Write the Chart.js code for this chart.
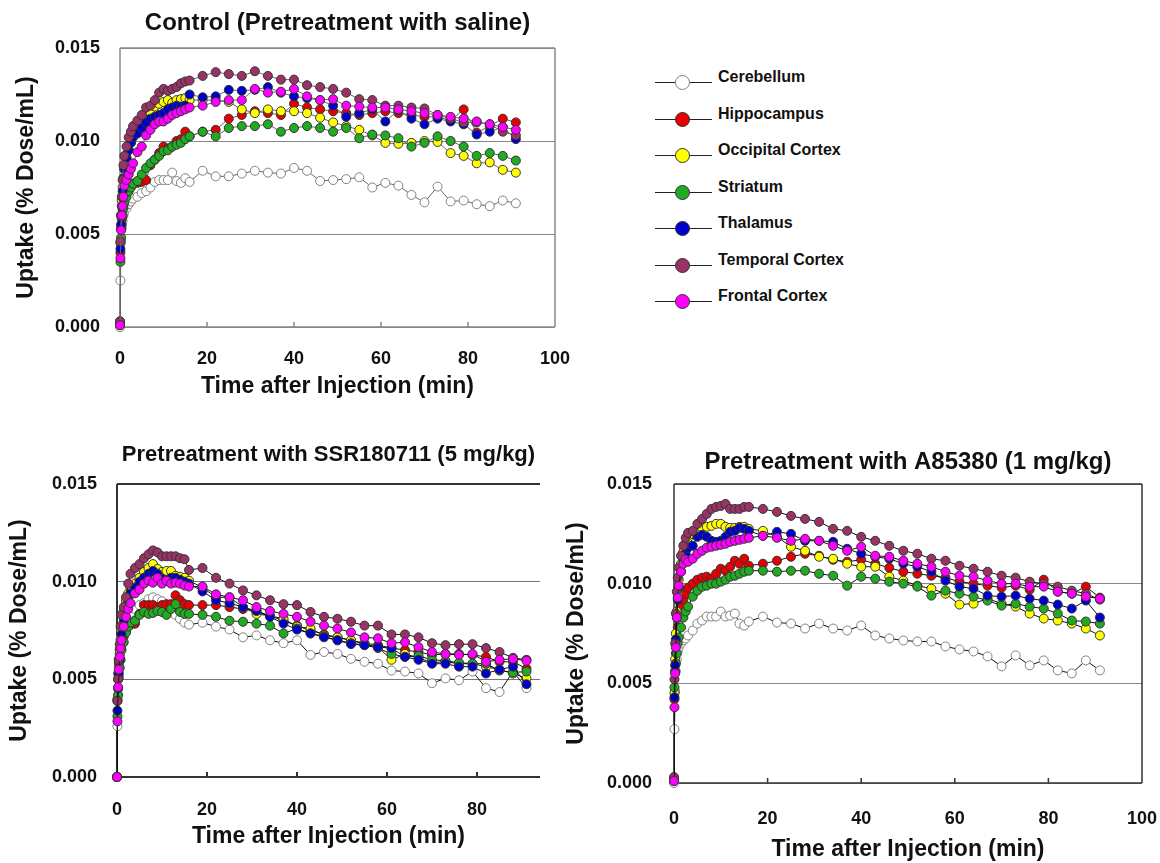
<!DOCTYPE html>
<html>
<head>
<meta charset="utf-8">
<title>Regional brain uptake</title>
<script src="https://cdn.jsdelivr.net/npm/chart.js@4.4.1/dist/chart.umd.min.js"></script>
<style>
  html { overflow: hidden; }
  body { margin: 0; background: #fff; width: 1160px; height: 863px; position: relative; overflow: hidden;
         font-family: "Liberation Sans", Arial, sans-serif; }
  canvas { position: absolute; }
  #legend { position: absolute; left: 655px; top: 82px; }
  #legend .item { position: absolute; left: 0; height: 0; width: 260px; }
  #legend .line { position: absolute; left: 0; top: 0; width: 57px; height: 1px; background: #222; }
  #legend .dot { position: absolute; left: 20px; top: -7px; width: 15px; height: 15px; border-radius: 50%;
                 border: 1px solid #333; box-sizing: border-box; }
  #legend .label { position: absolute; left: 63px; top: -15px; font-size: 16px; font-weight: bold;
                   line-height: 20px; color: #111; white-space: nowrap; }
</style>
</head>
<body>
<canvas id="control" width="585" height="400" style="left:0;top:0"></canvas>
<canvas id="ssr" width="560" height="440" style="left:0;top:420px"></canvas>
<canvas id="a85" width="616" height="443" style="left:560px;top:420px"></canvas>
<div id="legend"></div>

<script>
// sampling times (min) shared by all three experiments
var times = [0, 0.1, 0.25, 0.4, 0.6, 0.8, 1, 1.5, 2, 2.5, 3, 4, 5, 6, 7, 8, 9, 10, 11, 12, 13, 14, 15, 16,
  19, 22, 25, 28, 31, 34, 37, 40, 43, 46, 49, 52, 55, 58, 61, 64, 67, 70, 73, 76, 79, 82, 85, 88, 91];

var regions = ["Cerebellum", "Hippocampus", "Occipital Cortex", "Striatum", "Thalamus", "Temporal Cortex", "Frontal Cortex"];
var fills = ["#ffffff", "#e60000", "#ffff00", "#22aa22", "#0000cc", "#993366", "#ff00ff"];
var edges = ["#808080", "#333333", "#333333", "#333333", "#333333", "#333333", "#333333"];

var yTickLabels = ["0.000", "0.005", "0.010", "0.015"];
var xTickLabels = ["0", "20", "40", "60", "80", "100"];

// Control (pretreatment with saline), % dose/mL
var ctrlCerebellum = [0, 0.0025, 0.0046, 0.0053, 0.0057, 0.006, 0.0062, 0.0064, 0.0066, 0.00675, 0.0069,
  0.007, 0.0072, 0.0073, 0.0075, 0.0078, 0.0079, 0.0079, 0.0079, 0.0083, 0.00785, 0.00775, 0.008, 0.0078,
  0.0084, 0.0081, 0.0081, 0.00825, 0.0084, 0.0083, 0.00825, 0.00855, 0.0084, 0.00785, 0.0079, 0.00795, 0.00805,
  0.0075, 0.00775, 0.0076, 0.0071, 0.0067, 0.00755, 0.00675, 0.0068, 0.0066, 0.0065, 0.0068, 0.00665];
var ctrlHippocampus = [0.0003, 0.004, 0.0053, 0.0058, 0.0063, 0.0066, 0.0069, 0.0072, 0.0075, 0.0076, 0.0077,
  0.00775, 0.0078, 0.0079, 0.0087, 0.009, 0.00935, 0.0097, 0.0096, 0.0097, 0.01, 0.0101, 0.0105, 0.01025,
  0.0105, 0.0106, 0.0112, 0.0114, 0.0116, 0.0115, 0.0114, 0.012, 0.0118, 0.0117, 0.0116, 0.0115, 0.0114,
  0.0115, 0.0116, 0.0115, 0.0114, 0.0113, 0.0113, 0.0111, 0.0117, 0.01045, 0.0108, 0.0112, 0.011];
var ctrlOccipital = [0.0002, 0.0045, 0.006, 0.0068, 0.0075, 0.008, 0.0085, 0.009, 0.0095, 0.0099, 0.01025,
  0.0105, 0.0108, 0.01115, 0.0115, 0.01185, 0.012, 0.0121, 0.0122, 0.01205, 0.0122, 0.01225, 0.0123, 0.0122,
  0.0122, 0.0122, 0.0121, 0.0117, 0.0115, 0.0117, 0.0116, 0.0116, 0.0115, 0.01125, 0.011, 0.0108, 0.0106,
  0.0103, 0.0099, 0.00985, 0.0099, 0.01, 0.00995, 0.00935, 0.0092, 0.0088, 0.00885, 0.00845, 0.0083];
var ctrlStriatum = [0.0001, 0.0035, 0.0048, 0.0055, 0.006, 0.0064, 0.0067, 0.007, 0.0073, 0.0075, 0.0077,
  0.00785, 0.0082, 0.00855, 0.0088, 0.009, 0.0092, 0.00945, 0.0095, 0.0097, 0.0098, 0.0099, 0.0101, 0.01025,
  0.0105, 0.01025, 0.0107, 0.0108, 0.0108, 0.0109, 0.0105, 0.0107, 0.0108, 0.0107, 0.0105, 0.0107, 0.01015,
  0.01035, 0.0103, 0.01015, 0.0097, 0.0099, 0.01025, 0.01, 0.0097, 0.0092, 0.00935, 0.0092, 0.00895];
var ctrlThalamus = [0.0002, 0.0042, 0.0055, 0.0065, 0.0073, 0.008, 0.0085, 0.0091, 0.0095, 0.0099, 0.0102,
  0.0104, 0.0107, 0.011, 0.0112, 0.0113, 0.0114, 0.0115, 0.0117, 0.0118, 0.0119, 0.01185, 0.0119, 0.0125,
  0.01235, 0.0124, 0.01275, 0.0127, 0.01275, 0.0129, 0.0126, 0.0124, 0.0123, 0.0122, 0.0119, 0.0113, 0.0115,
  0.0117, 0.01105, 0.01165, 0.0112, 0.0109, 0.0112, 0.01105, 0.0109, 0.01035, 0.0105, 0.01075, 0.0101];
var ctrlTemporal = [0.0003, 0.0046, 0.006, 0.007, 0.0079, 0.0087, 0.0092, 0.0097, 0.0102, 0.0105, 0.0108,
  0.0111, 0.0114, 0.0118, 0.0119, 0.0122, 0.0126, 0.0128, 0.0127, 0.0128, 0.0129, 0.0131, 0.0132, 0.01325,
  0.0135, 0.0137, 0.0136, 0.0135, 0.01375, 0.0135, 0.0133, 0.0133, 0.013, 0.0129, 0.0128, 0.0126, 0.01225,
  0.0122, 0.0119, 0.0119, 0.0118, 0.01175, 0.0114, 0.0112, 0.011, 0.011, 0.0109, 0.0105, 0.0103];
var ctrlFrontal = [0.0001, 0.0037, 0.0052, 0.006, 0.0065, 0.007, 0.0076, 0.0079, 0.0082, 0.0085, 0.0088,
  0.0094, 0.0097, 0.0103, 0.0106, 0.0109, 0.01105, 0.01105, 0.0112, 0.0114, 0.0115, 0.0116, 0.0117, 0.0118,
  0.0119, 0.0121, 0.0122, 0.0122, 0.0128, 0.0126, 0.01265, 0.0128, 0.0124, 0.0122, 0.01225, 0.0119, 0.01185,
  0.0118, 0.0118, 0.0117, 0.0116, 0.0115, 0.0114, 0.0113, 0.0112, 0.01105, 0.0109, 0.01075, 0.0106];

// Pretreatment with SSR180711 (5 mg/kg)
var ssrCerebellum = [0, 0.0026, 0.0045, 0.0056, 0.0065, 0.0071, 0.0075, 0.0079, 0.0081, 0.0083, 0.0084,
  0.0086, 0.0088, 0.0089, 0.0091, 0.0092, 0.0091, 0.009, 0.0088, 0.0085, 0.0083, 0.0081, 0.0079, 0.0078,
  0.0079, 0.0077, 0.00755, 0.00715, 0.00725, 0.007, 0.00685, 0.007, 0.00625, 0.0064, 0.0063, 0.00605, 0.0059,
  0.0058, 0.00545, 0.0054, 0.0053, 0.0048, 0.00505, 0.00495, 0.0054, 0.00455, 0.00435, 0.0054, 0.00455];
var ssrHippocampus = [0, 0.0039, 0.005, 0.0058, 0.0063, 0.0066, 0.0069, 0.0072, 0.0075, 0.0077, 0.0078,
  0.00785, 0.00835, 0.0088, 0.0088, 0.0088, 0.0087, 0.0088, 0.00885, 0.00885, 0.0093, 0.00905, 0.00885, 0.0088,
  0.0088, 0.0088, 0.0087, 0.0086, 0.0085, 0.00825, 0.008, 0.00775, 0.0075, 0.0073, 0.00715, 0.007, 0.00685,
  0.00675, 0.0066, 0.0065, 0.0064, 0.00625, 0.0063, 0.0063, 0.00625, 0.00615, 0.0059, 0.0059, 0.00555];
var ssrOccipital = [0, 0.004, 0.0053, 0.006, 0.0065, 0.007, 0.0077, 0.0085, 0.009, 0.0094, 0.0097,
  0.0099, 0.0102, 0.0105, 0.0107, 0.0109, 0.01065, 0.0105, 0.01055, 0.01055, 0.0103, 0.01025, 0.0102, 0.01005,
  0.0097, 0.0092, 0.0092, 0.0087, 0.00835, 0.00825, 0.0081, 0.0077, 0.0076, 0.00725, 0.00715, 0.007, 0.0068,
  0.00665, 0.006, 0.0063, 0.0061, 0.00585, 0.0059, 0.0058, 0.0058, 0.00565, 0.0055, 0.0053, 0.00505];
var ssrStriatum = [0, 0.0031, 0.0042, 0.0051, 0.0056, 0.006, 0.0065, 0.0069, 0.0074, 0.0077, 0.0079,
  0.008, 0.0083, 0.00845, 0.00835, 0.0084, 0.0085, 0.00845, 0.0083, 0.0086, 0.00885, 0.00845, 0.00835, 0.00835,
  0.0083, 0.0082, 0.008, 0.00795, 0.00785, 0.00775, 0.00735, 0.0076, 0.00735, 0.0072, 0.007, 0.00685, 0.00675,
  0.0066, 0.0063, 0.00615, 0.0062, 0.006, 0.00595, 0.00585, 0.0058, 0.0058, 0.00545, 0.00535, 0.0054];
var ssrThalamus = [0, 0.0034, 0.00455, 0.0053, 0.006, 0.0066, 0.0073, 0.008, 0.0086, 0.009, 0.0094,
  0.0097, 0.01, 0.0102, 0.0104, 0.01055, 0.0104, 0.01015, 0.01005, 0.0102, 0.0102, 0.0101, 0.01, 0.0099,
  0.0095, 0.00905, 0.0089, 0.0087, 0.0085, 0.0082, 0.00785, 0.00755, 0.00735, 0.00715, 0.007, 0.0068, 0.00675,
  0.00665, 0.0066, 0.00615, 0.006, 0.0058, 0.0058, 0.00565, 0.00565, 0.0053, 0.0055, 0.00565, 0.00475];
var ssrTemporal = [0, 0.0039, 0.005, 0.006, 0.0068, 0.0077, 0.0083, 0.0087, 0.0092, 0.0099, 0.0104,
  0.0107, 0.0109, 0.0112, 0.0114, 0.0116, 0.0115, 0.0113, 0.0113, 0.0113, 0.0113, 0.0112, 0.01115, 0.0106,
  0.0107, 0.0102, 0.0099, 0.00955, 0.0093, 0.00905, 0.00885, 0.0088, 0.00845, 0.0082, 0.0081, 0.00795, 0.00775,
  0.00775, 0.0073, 0.0073, 0.00715, 0.00685, 0.00675, 0.0068, 0.0068, 0.0066, 0.0064, 0.0061, 0.006];
var ssrFrontal = [0, 0.00285, 0.0046, 0.0055, 0.00615, 0.0066, 0.007, 0.0077, 0.0082, 0.0086, 0.0089,
  0.0094, 0.0096, 0.0099, 0.01005, 0.00995, 0.0102, 0.0099, 0.01005, 0.0099, 0.00995, 0.0099, 0.0098, 0.00975,
  0.00975, 0.00935, 0.0092, 0.00905, 0.0087, 0.0085, 0.00835, 0.0082, 0.00795, 0.00775, 0.0076, 0.0074, 0.00715,
  0.0071, 0.00685, 0.0069, 0.00665, 0.0064, 0.0063, 0.00625, 0.0063, 0.0059, 0.006, 0.00605, 0.00595];

// Pretreatment with A85380 (1 mg/kg)
var aCerebellum = [0, 0.0027, 0.0046, 0.0056, 0.0062, 0.0066, 0.0068, 0.007, 0.00715, 0.00725, 0.0074,
  0.00765, 0.008, 0.00815, 0.00835, 0.00835, 0.00835, 0.0086, 0.00835, 0.0084, 0.0085, 0.008, 0.0079, 0.0081,
  0.00835, 0.00805, 0.008, 0.00775, 0.008, 0.00775, 0.00765, 0.0079, 0.0074, 0.00725, 0.00715, 0.0071, 0.0071,
  0.00685, 0.0067, 0.0066, 0.00635, 0.00585, 0.0064, 0.0059, 0.00615, 0.00565, 0.0055, 0.00615, 0.00565];
var aHippocampus = [0.0002, 0.0042, 0.0056, 0.0065, 0.0072, 0.0078, 0.0083, 0.0089, 0.0092, 0.0095, 0.0098,
  0.01, 0.0102, 0.0103, 0.01035, 0.01025, 0.0105, 0.01075, 0.01065, 0.01085, 0.01115, 0.011, 0.01125, 0.0109,
  0.011, 0.01115, 0.01135, 0.0115, 0.0114, 0.0112, 0.0111, 0.0112, 0.011, 0.0108, 0.0106, 0.0105, 0.0104,
  0.0103, 0.0101, 0.01, 0.0099, 0.0098, 0.0099, 0.0097, 0.0102, 0.0096, 0.0095, 0.00985, 0.0093];
var aOccipital = [0.0002, 0.0045, 0.0062, 0.0075, 0.0086, 0.0095, 0.0102, 0.011, 0.0116, 0.012, 0.0123,
  0.0125, 0.01275, 0.0128, 0.01285, 0.0129, 0.013, 0.013, 0.01285, 0.0128, 0.0128, 0.01285, 0.01285, 0.01275,
  0.01265, 0.01235, 0.01185, 0.01165, 0.01135, 0.01125, 0.011, 0.01085, 0.01085, 0.01035, 0.01015, 0.0099, 0.00975,
  0.0095, 0.00895, 0.009, 0.00925, 0.009, 0.00885, 0.0085, 0.00825, 0.00815, 0.008, 0.00775, 0.0074];
var aStriatum = [0.0001, 0.0048, 0.0056, 0.006, 0.0065, 0.007, 0.0073, 0.0078, 0.0083, 0.0086, 0.00885,
  0.00935, 0.00965, 0.00985, 0.0099, 0.01, 0.01, 0.0101, 0.0102, 0.01035, 0.0104, 0.0105, 0.0106, 0.01065,
  0.01065, 0.0106, 0.01065, 0.01065, 0.0105, 0.0104, 0.0099, 0.01035, 0.01025, 0.0101, 0.01, 0.00985, 0.0094,
  0.00965, 0.0095, 0.00935, 0.00915, 0.0089, 0.009, 0.00885, 0.00875, 0.0085, 0.00815, 0.0081, 0.008];
var aThalamus = [0.0002, 0.0043, 0.0059, 0.0072, 0.0083, 0.0092, 0.0098, 0.0106, 0.0111, 0.0115, 0.0118,
  0.0119, 0.01235, 0.01245, 0.01235, 0.01215, 0.0121, 0.01215, 0.01235, 0.0126, 0.01265, 0.0128, 0.01275, 0.01265,
  0.0124, 0.0126, 0.0125, 0.01215, 0.01215, 0.0121, 0.01175, 0.0115, 0.01135, 0.01125, 0.011, 0.01085, 0.0106,
  0.01015, 0.00985, 0.00975, 0.0094, 0.00935, 0.0094, 0.00925, 0.00915, 0.00895, 0.00875, 0.00915, 0.0083];
var aTemporal = [0.0003, 0.0052, 0.007, 0.0085, 0.0096, 0.0103, 0.0108, 0.0114, 0.0119, 0.0123, 0.01255,
  0.01265, 0.013, 0.01325, 0.0135, 0.01375, 0.01385, 0.0139, 0.014, 0.01375, 0.01375, 0.01375, 0.01385, 0.01385,
  0.01375, 0.0136, 0.0134, 0.01325, 0.0131, 0.01275, 0.01265, 0.01235, 0.01215, 0.0119, 0.01165, 0.0115, 0.01125,
  0.01115, 0.0109, 0.01075, 0.0106, 0.0104, 0.0103, 0.0101, 0.01, 0.00985, 0.00965, 0.0095, 0.0092];
var aFrontal = [0.0001, 0.0038, 0.0055, 0.0068, 0.0083, 0.0093, 0.0099, 0.0106, 0.011, 0.0112, 0.0111,
  0.01125, 0.0115, 0.01165, 0.0118, 0.01185, 0.0119, 0.01195, 0.012, 0.0121, 0.01215, 0.0122, 0.01225, 0.0123,
  0.0124, 0.0123, 0.01215, 0.01225, 0.01215, 0.0119, 0.01165, 0.01185, 0.0114, 0.01135, 0.01115, 0.011, 0.01085,
  0.0106, 0.0104, 0.01035, 0.01015, 0.01, 0.01, 0.00985, 0.00985, 0.0096, 0.0095, 0.00935, 0.00925];

Chart.defaults.font.family = '"Liberation Sans", Arial, sans-serif';
Chart.defaults.color = "#111";

// box around the plot + small inward tick marks on the time axis
var framePlugin = {
  id: "frame",
  beforeDatasetsDraw: function (chart, args, opts) {
    var a = chart.chartArea, ctx = chart.ctx, xs = chart.scales.x;
    ctx.save();
    ctx.strokeStyle = opts.color;
    ctx.lineWidth = opts.width;
    ctx.beginPath();
    if (opts.sides.indexOf("top") >= 0) { ctx.moveTo(a.left, a.top); ctx.lineTo(a.right, a.top); }
    if (opts.sides.indexOf("right") >= 0) { ctx.moveTo(a.right, a.top); ctx.lineTo(a.right, a.bottom); }
    if (opts.sides.indexOf("bottom") >= 0) { ctx.moveTo(a.left, a.bottom); ctx.lineTo(a.right, a.bottom); }
    if (opts.sides.indexOf("left") >= 0) { ctx.moveTo(a.left, a.top); ctx.lineTo(a.left, a.bottom); }
    xs.ticks.forEach(function (t) {
      var px = xs.getPixelForValue(t.value);
      ctx.moveTo(px, a.bottom);
      ctx.lineTo(px, a.bottom - 5);
    });
    ctx.stroke();
    ctx.restore();
  }
};

function makeChart(id, o) {
  var datasets = o.series.map(function (vals, i) {
    return {
      label: regions[i],
      data: times.map(function (t, k) { return { x: t, y: vals[k] }; }),
      borderColor: o.lineColor,
      borderWidth: 1,
      pointRadius: 4.5,
      pointBorderWidth: 1,
      pointBackgroundColor: fills[i],
      pointBorderColor: edges[i],
      order: regions.length - i,
      clip: false
    };
  });

  return new Chart(id, {
    type: "line",
    data: { datasets: datasets },
    plugins: [framePlugin],
    options: {
      responsive: false,
      animation: false,
      layout: { padding: { left: 0, right: o.padRight, top: 0, bottom: 0 } },
      plugins: {
        legend: { display: false },
        tooltip: { enabled: false },
        title: {
          display: true,
          text: o.title,
          fullSize: false,
          color: "#111",
          font: { size: o.titleSize, weight: "bold" },
          padding: o.titlePad
        },
        frame: o.frame
      },
      scales: {
        x: {
          type: "linear",
          min: 0,
          max: o.xMax,
          afterFit: function (s) { s.height = o.axisH; },
          grid: { display: false },
          border: { display: false },
          ticks: {
            stepSize: 20,
            includeBounds: false,
            padding: o.xTickPad,
            maxRotation: 0,
            font: { size: 18, weight: "bold" },
            callback: function (value, index) { return xTickLabels[index]; }
          },
          title: {
            display: true,
            text: "Time after Injection (min)",
            font: { size: 23, weight: "bold" },
            padding: { top: 0, bottom: o.xTitlePad }
          }
        },
        y: {
          min: 0,
          max: 0.015,
          afterFit: function (s) { s.width = o.axisW; },
          grid: { color: o.gridColor, lineWidth: 1, drawTicks: false },
          border: { display: false },
          ticks: {
            stepSize: 0.005,
            padding: o.yTickPad,
            font: { size: 18, weight: "bold" },
            callback: function (value, index) { return yTickLabels[index]; }
          },
          title: {
            display: true,
            text: "Uptake (% Dose/mL)",
            font: { size: 23, weight: "bold" },
            padding: { top: o.yTitlePad, bottom: 0 }
          }
        }
      }
    }
  });
}

// padRight leaves room for half of the last tick label plus its padding
makeChart("control", {
  title: "Control (Pretreatment with saline)",
  titleSize: 24, titlePad: { top: 8.6, bottom: 10.6 },
  series: [ctrlCerebellum, ctrlHippocampus, ctrlOccipital, ctrlStriatum, ctrlThalamus, ctrlTemporal, ctrlFrontal],
  xMax: 100, axisW: 120, axisH: 73, padRight: 30,
  xTickPad: 13, xTitlePad: 0, yTickPad: 20, yTitlePad: 13,
  lineColor: "#666666", gridColor: "#888888",
  frame: { color: "#888888", width: 1.5, sides: ["top", "right", "bottom", "left"] }
});

makeChart("ssr", {
  title: "Pretreatment with SSR180711 (5 mg/kg)",
  titleSize: 22, titlePad: { top: 21.8, bottom: 15.8 },
  series: [ssrCerebellum, ssrHippocampus, ssrOccipital, ssrStriatum, ssrThalamus, ssrTemporal, ssrFrontal],
  xMax: 94, axisW: 117, axisH: 83, padRight: 20,
  xTickPad: 14, xTitlePad: 10, yTickPad: 20, yTitlePad: 6,
  lineColor: "#111111", gridColor: "#777777",
  frame: { color: "#333333", width: 2, sides: ["top", "bottom", "left"] }
});

makeChart("a85", {
  title: "Pretreatment with A85380 (1 mg/kg)",
  titleSize: 24, titlePad: { top: 27.6, bottom: 7.6 },
  series: [aCerebellum, aHippocampus, aOccipital, aStriatum, aThalamus, aTemporal, aFrontal],
  xMax: 100, axisW: 114, axisH: 80, padRight: 34,
  xTickPad: 17, xTitlePad: 0, yTickPad: 22, yTitlePad: 3,
  lineColor: "#111111", gridColor: "#888888",
  frame: { color: "#333333", width: 1.5, sides: ["top", "right", "bottom", "left"] }
});

// legend: line with a marker, then the region name
var legendBox = document.getElementById("legend");
regions.forEach(function (name, i) {
  var item = document.createElement("div");
  item.className = "item";
  item.style.top = (i * 36.5) + "px";
  item.innerHTML = '<span class="line"></span><span class="dot" style="background:' + fills[i] +
    ';border-color:' + edges[i] + '"></span><span class="label">' + name + '</span>';
  legendBox.appendChild(item);
});
</script>
</body>
</html>
